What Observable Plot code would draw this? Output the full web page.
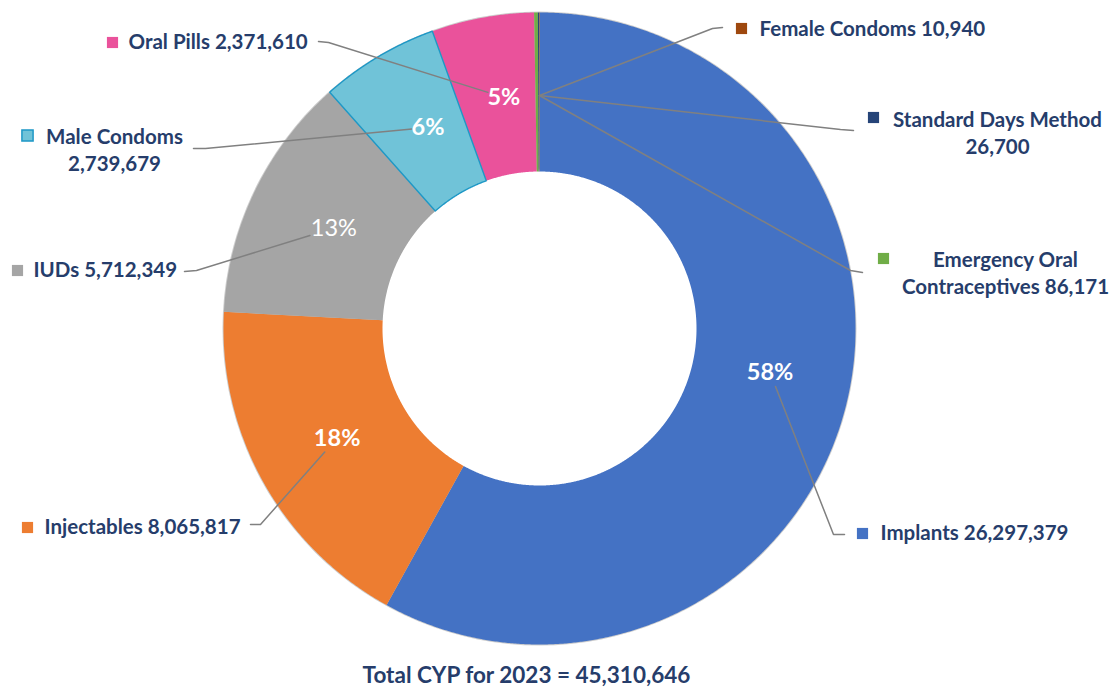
<!DOCTYPE html>
<html>
<head>
<meta charset="utf-8">
<script src="https://cdn.jsdelivr.net/npm/d3@7"></script>
<script src="https://cdn.jsdelivr.net/npm/@observablehq/plot@0.6"></script>
<style>
  html, body { margin: 0; padding: 0; background: #fff; }
  #chart svg { display: block; }
  #caption { font-family: Lato, "Open Sans", sans-serif; font-weight: bold; font-size: 22.5px; color: #263d6b;
             width: 1053px; text-align: center; height: 30px; line-height: 30px; padding-top: 2px; }
</style>
</head>
<body>
<div id="chart"></div>
<div id="caption">Total CYP for 2023 = 45,310,646</div>
<script>
// ---- data ----
const categories = ["Implants", "Injectables", "IUDs", "Male Condoms", "Oral Pills",
  "Emergency Oral Contraceptives", "Standard Days Method", "Female Condoms"];
const values = [26297379, 8065817, 5712349, 2739679, 2371610, 86171, 26700, 10940];
const percentLabels = ["58%", "18%", "13%", "6%", "5%", "", "", ""];
const displayNames = ["Implants", "Injectables", "IUDs", "Male Condoms", "Oral Pills",
  "Emergency Oral\nContraceptives", "Standard Days Method", "Female Condoms"];
const nameValueSep = [" ", " ", " ", "\n", " ", " ", "\n", " "];

// ---- styles ----
const colors = ["#4472C4", "#ED7D31", "#A5A5A5", "#70C3D8", "#EA529B", "#70AD47", "#264478", "#9E480E"];
const textColor = "#263d6b";
const font = "Lato, 'Open Sans', sans-serif";

// ---- layout (pixels in the page) ----
const W = 1111, H = 658, CX = 539, CY = 328, R_OUT = 316, R_IN = 157, R_MID = 236;
const squarePos = [[862,533],[27,527],[17,270],[27,135],[112,42],[883,258],[873,117],[741,28]];
const textPos = [[880,533],[44,527],[33,270],[114,148.5],[128,42],[1005,271.5],[997,131],[759,29]];
const textAnchorMiddle = [false,false,false,true,false,true,true,false];
const leaderStart = [[844,534],[250,524],[184,271],[193,148],[318,41],[862,272],[853,130],[722,27]];
const leaderElbow = [[833,534],[260,524],[196,270],[205,148],[328,42],[850,270],[840,129],[712,28]];
const pctNudge = [[2,-15],[4,-5],[7,2],[9,2],[7,1]];

// ---- derived ----
const fmt = d3.format(",");
const rows = categories.map((c, i) => ({cat: c, value: values[i], i}));
const arcs = d3.pie().sort(null).value(d => d.value)(rows);
const px = (p) => ({x: p[0] - CX, y: p[1] - CY});

// slice polygons
const slicePts = [];
arcs.forEach(a => {
  const n = Math.max(2, Math.ceil((a.endAngle - a.startAngle) / 0.005));
  for (let k = 0; k <= n; k++) {
    const t = a.startAngle + (a.endAngle - a.startAngle) * k / n;
    slicePts.push({cat: a.data.cat, x: R_OUT * Math.sin(t), y: -R_OUT * Math.cos(t)});
  }
  for (let k = n; k >= 0; k--) {
    const t = a.startAngle + (a.endAngle - a.startAngle) * k / n;
    slicePts.push({cat: a.data.cat, x: R_IN * Math.sin(t), y: -R_IN * Math.cos(t)});
  }
});

// centroids and percent labels
const cent = arcs.map(a => {
  const t = (a.startAngle + a.endAngle) / 2;
  return {x: R_MID * Math.sin(t), y: -R_MID * Math.cos(t)};
});
const pctRows = arcs.map((a, i) => ({
  cat: a.data.cat, label: percentLabels[i],
  x: cent[i].x + (pctNudge[i] ? pctNudge[i][0] : 0),
  y: cent[i].y + (pctNudge[i] ? pctNudge[i][1] : 0)
})).filter(d => d.label);

// leader lines
const leaderPts = [];
rows.forEach((r, i) => {
  const s = px(leaderStart[i]), e = px(leaderElbow[i]);
  let end;
  if (percentLabels[i]) {
    const l = pctRows.find(d => d.cat === r.cat);
    const hw = percentLabels[i].length * 8, hh = 14;
    const dx = e.x - l.x, dy = e.y - l.y;
    const t = Math.min(hw / Math.abs(dx || 1e-9), hh / Math.abs(dy || 1e-9));
    end = {x: l.x + dx * t, y: l.y + dy * t};
  } else {
    end = {x: 0, y: -233};
  }
  [s, e, end].forEach(p => leaderPts.push({cat: r.cat, x: p.x, y: p.y}));
});

// outer labels
const labelRows = rows.map((r, i) => ({
  cat: r.cat,
  text: displayNames[i] + nameValueSep[i] + fmt(r.value),
  sx: squarePos[i][0] - CX, sy: squarePos[i][1] - CY,
  tx: textPos[i][0] - CX, ty: textPos[i][1] - CY,
  middle: textAnchorMiddle[i]
}));

const chart = Plot.plot({
  width: W, height: H,
  margin: 0,
  x: {domain: [-CX, W - CX], axis: null},
  y: {domain: [-CY, H - CY], reverse: true, axis: null},
  color: {domain: categories, range: colors},
  style: {fontFamily: font, background: "white"},
  marks: [
    Plot.dot([{x: 0, y: 0}], {x: "x", y: "y", r: R_OUT + 1, fill: "#000", fillOpacity: 0.2, stroke: "none", ariaLabel: "shadow"}),
    Plot.dot([{x: 0, y: 0}], {x: "x", y: "y", r: R_IN + 2, fill: "#fff", stroke: "none"}),
    Plot.line(slicePts, {x: "x", y: "y", z: "cat", fill: "cat", stroke: "none", curve: "linear-closed"}),
    Plot.line(slicePts.filter(d => d.cat === "Male Condoms"), {x: "x", y: "y", fill: "none", stroke: "#1E98C6", strokeWidth: 1.4, curve: "linear-closed"}),
    Plot.line(leaderPts, {x: "x", y: "y", z: "cat", stroke: "#808080", strokeWidth: 1.5}),
    Plot.text(pctRows.filter(d => d.label !== "13%"), {x: "x", y: "y", text: "label", fill: "white", fontSize: 23.5, fontWeight: "bold"}),
    Plot.text(pctRows.filter(d => d.label === "13%"), {x: "x", y: "y", text: "label", fill: "white", fontSize: 23.5, fontWeight: "normal"}),
    Plot.dot(labelRows, {x: "sx", y: "sy", symbol: "square", r: 6.3, fill: "cat", stroke: d => d.cat === "Male Condoms" ? "#1E98C6" : "none", strokeWidth: 1.5}),
    Plot.text(labelRows.filter(d => !d.middle), {x: "tx", y: "ty", text: "text", textAnchor: "start", fill: textColor, fontSize: 20.5, fontWeight: "bold"}),
    Plot.text(labelRows.filter(d => d.middle), {x: "tx", y: "ty", text: "text", textAnchor: "middle", lineAnchor: "middle", lineHeight: 1.32, fill: textColor, fontSize: 20.5, fontWeight: "bold"})
  ]
});
const shadowG = chart.querySelector('g[aria-label="shadow"]');
if (shadowG) shadowG.style.filter = "blur(7px)";
document.getElementById("chart").appendChild(chart);
</script>
</body>
</html>
